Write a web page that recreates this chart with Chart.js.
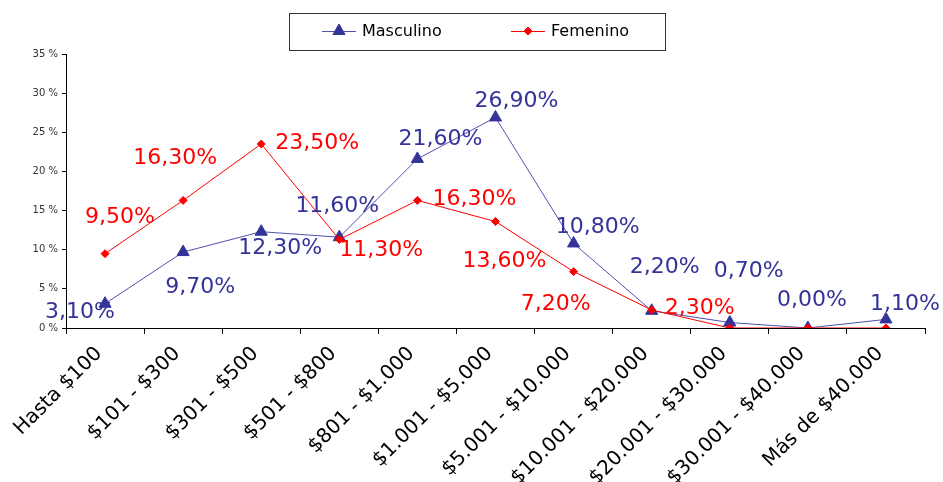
<!DOCTYPE html>
<html>
<head>
<meta charset="utf-8">
<script src="https://cdn.jsdelivr.net/npm/chart.js@4/dist/chart.umd.min.js"></script>
<style>
  body { margin: 0; background: #fff; }
  #wrap { width: 943px; height: 482px; }
</style>
</head>
<body>
<div id="wrap"><canvas id="ingresos" width="943" height="482"></canvas></div>
<script>
const rangos = ['Hasta $100', '$101 - $300', '$301 - $500', '$501 - $800', '$801 - $1.000',
  '$1.001 - $5.000', '$5.001 - $10.000', '$10.001 - $20.000', '$20.001 - $30.000',
  '$30.001 - $40.000', 'Más de $40.000'];
const masculino = [3.1, 9.7, 12.3, 11.6, 21.6, 26.9, 10.8, 2.2, 0.7, 0.0, 1.1];
const femenino = [9.5, 16.3, 23.5, 11.3, 16.3, 13.6, 7.2, 2.3, 0.0, 0.0, 0.0];
const ticksY = [0, 5, 10, 15, 20, 25, 30, 35];

// desplazamiento de cada etiqueta respecto a su punto (null = sin etiqueta)
const posMasc = [[-25, 9], [17, 35], [19, 17], [-2, -31], [23, -20], [21, -16], [24, -16], [13, -43], [19, -51], [4, -28], [19, -15]];
const posFem = [[15, -36], [-8, -42], [56, -1], [42, 11], [57, -1], [9, 40], [-18, 33], [48, -2], null, null, null];

const azul = '#333399';
const rojo = '#ff0000';

const etiquetas = {
  id: 'etiquetas',
  afterDatasetsDraw(chart) {
    const ctx = chart.ctx;
    ctx.save();
    ctx.font = '22px "DejaVu Sans"';
    ctx.textAlign = 'center';
    ctx.textBaseline = 'middle';
    chart.data.datasets.forEach((ds, i) => {
      const meta = chart.getDatasetMeta(i);
      meta.data.forEach((pt, j) => {
        const off = ds.posEtiqueta[j];
        if (!off) return;
        ctx.fillStyle = ds.colorEtiqueta;
        ctx.fillText(ds.data[j].toFixed(2).replace('.', ',') + '%', pt.x + off[0], pt.y + off[1]);
      });
    });
    ctx.restore();
  }
};

const leyenda = {
  id: 'leyenda',
  afterDraw(chart) {
    const ctx = chart.ctx;
    ctx.save();
    ctx.strokeStyle = '#333';
    ctx.lineWidth = 1;
    ctx.strokeRect(289.5, 13.5, 376, 37);
    ctx.font = '16px "DejaVu Sans"';
    ctx.textBaseline = 'middle';
    const items = [
      { x: 322, linea: '#5050b0', color: azul, estilo: 'triangle', r: 7, texto: 'Masculino' },
      { x: 511, linea: rojo, color: rojo, estilo: 'rectRot', r: 4, texto: 'Femenino' }
    ];
    items.forEach(it => {
      ctx.strokeStyle = it.linea;
      ctx.beginPath();
      ctx.moveTo(it.x, 31.5);
      ctx.lineTo(it.x + 34, 31.5);
      ctx.stroke();
      ctx.fillStyle = it.color;
      ctx.strokeStyle = it.color;
      Chart.helpers.drawPoint(ctx, { pointStyle: it.estilo, radius: it.r, borderWidth: 1 }, it.x + 17, 31);
      ctx.fillStyle = '#000';
      ctx.fillText(it.texto, it.x + 40, 32);
    });
    ctx.restore();
  }
};

new Chart(document.getElementById('ingresos'), {
  type: 'line',
  data: {
    labels: rangos,
    datasets: [
      {
        label: 'Masculino',
        data: masculino,
        borderColor: '#5050b0',
        backgroundColor: azul,
        pointBackgroundColor: azul,
        pointBorderColor: azul,
        pointStyle: 'triangle',
        pointRadius: 7,
        borderWidth: 1,
        tension: 0,
        order: 1,
        posEtiqueta: posMasc,
        colorEtiqueta: azul
      },
      {
        label: 'Femenino',
        data: femenino,
        borderColor: rojo,
        backgroundColor: rojo,
        pointBackgroundColor: rojo,
        pointBorderColor: rojo,
        pointStyle: 'rectRot',
        pointRadius: 4,
        borderWidth: 1,
        tension: 0,
        order: 0,
        posEtiqueta: posFem,
        colorEtiqueta: rojo
      }
    ]
  },
  options: {
    responsive: false,
    animation: false,
    layout: { padding: { top: 54, right: 18, left: 0, bottom: 0 } },
    plugins: {
      legend: { display: false },
      tooltip: { enabled: false }
    },
    scales: {
      x: {
        offset: true,
        grid: { display: true, drawOnChartArea: false, offset: true, tickLength: 6, color: '#000' },
        border: { color: '#000' },
        ticks: {
          color: '#000',
          font: { family: 'DejaVu Sans', size: 20 },
          minRotation: 45,
          maxRotation: 45,
          autoSkip: false,
          padding: 8,
          labelOffset: -6
        },
        afterFit: s => { s.height = 154; }
      },
      y: {
        min: 0,
        max: 35,
        afterBuildTicks: s => { s.ticks = ticksY.map(v => ({ value: v })); },
        grid: { display: true, drawOnChartArea: false, tickLength: 4, color: '#000' },
        border: { color: '#000' },
        ticks: {
          color: '#333',
          font: { family: 'DejaVu Sans', size: 10 },
          padding: 4,
          callback: v => v + ' %'
        },
        afterFit: s => { s.width = 66; }
      }
    }
  },
  plugins: [etiquetas, leyenda]
});
</script>
</body>
</html>
